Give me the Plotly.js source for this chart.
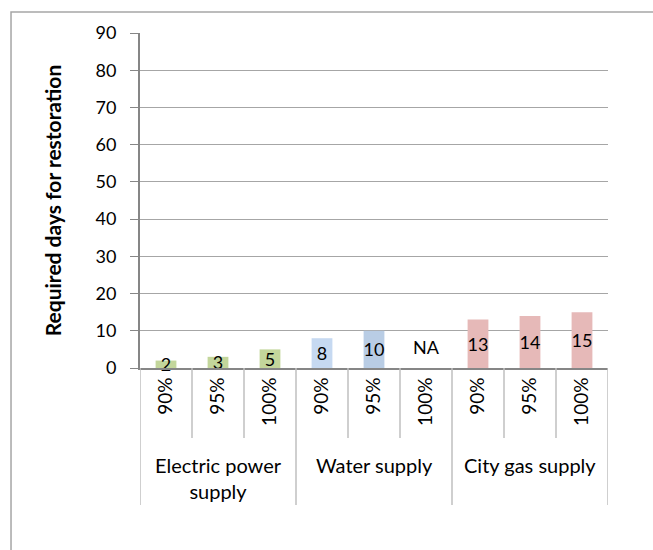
<!DOCTYPE html>
<html>
<head>
<meta charset="utf-8">
<script src="https://cdn.plot.ly/plotly-3.0.1.min.js"></script>
<style>html,body{margin:0;padding:0;background:#fff;}#chart{width:653px;height:550px;}</style>
</head>
<body>
<div id="chart"></div>
<script>
// Data
var groups = ['Electric power<br>supply', 'Water supply', 'City gas supply'];
var levels = ['90%', '95%', '100%'];
var electricValues = [2, 3, 5];
var waterValues = [8, 10, null];
var gasValues = [13, 14, 15];
var electricLabels = ['2', '3', '5'];
var waterLabels = ['8', '10', 'NA'];
var gasLabels = ['13', '14', '15'];
var yTicks = [0, 10, 20, 30, 40, 50, 60, 70, 80, 90];

var seriesValues = [electricValues, waterValues, gasValues];
var seriesLabels = [electricLabels, waterLabels, gasLabels];
var seriesColors = [
  ['#c3d69b', '#c3d69b', '#c3d69b'],
  ['#c6d9f1', '#b9cde5', '#b9cde5'],
  ['#e6b9b8', '#e6b9b8', '#e6b9b8']
];

var font = 'Lato, "Open Sans", sans-serif';
var traces = [];
var annotations = [];
var tickvals = [], ticktext = [];
var idx = 0;
groups.forEach(function (g, gi) {
  var xs = [], ys = [], txt = [];
  levels.forEach(function (l, li) {
    tickvals.push(idx);
    ticktext.push(l);
    xs.push(idx);
    var v = seriesValues[gi][li];
    ys.push(v);
    if (v === null) {
      annotations.push({x: idx, y: 0, xref: 'x', yref: 'y', text: seriesLabels[gi][li],
        showarrow: false, yanchor: 'bottom', yshift: 8, font: {family: font, size: 18, color: '#000'}});
      txt.push('');
    } else {
      txt.push(seriesLabels[gi][li]);
    }
    idx++;
  });
  traces.push({
    type: 'bar', x: xs, y: ys, text: txt,
    textposition: 'inside', insidetextanchor: 'middle', constraintext: 'none', textangle: 0,
    textfont: {family: font, size: 18, color: '#000'},
    marker: {color: seriesColors[gi], line: {width: 0}},
    width: 0.4, cliponaxis: false, hoverinfo: 'none', showlegend: false
  });
  annotations.push({x: gi * levels.length + (levels.length - 1) / 2, y: -0.248, xref: 'x', yref: 'paper',
    text: g, showarrow: false, yanchor: 'top', font: {family: font, size: 20, color: '#000'}});
});

var shapes = [];
var n = idx;
for (var k = 0; k <= n; k++) {
  var isGroup = (k % levels.length === 0);
  shapes.push({type: 'line', xref: 'x', yref: 'paper', x0: k - 0.5, x1: k - 0.5,
    y0: 0, y1: isGroup ? -0.409 : -0.209, line: {color: '#bfbfbf', width: 1.5}});
}
// outer chart border
shapes.push({type: 'rect', xref: 'paper', yref: 'paper', x0: -0.2756, x1: 1.5, y0: -1.0, y1: 1.0627,
  line: {color: '#a6a6a6', width: 1.5}, fillcolor: 'rgba(0,0,0,0)'});

var layout = {
  width: 653, height: 550,
  margin: {l: 140, r: 45, t: 33, b: 182},
  paper_bgcolor: '#fff', plot_bgcolor: '#fff',
  barmode: 'overlay',
  xaxis: {
    range: [-0.5, n - 0.5], tickmode: 'array', tickvals: tickvals, ticktext: ticktext,
    tickangle: -90, ticks: '', showgrid: false, zeroline: false,
    showline: true, linecolor: '#868686', linewidth: 2,
    tickfont: {family: font, size: 19, color: '#000'}, fixedrange: true
  },
  yaxis: {
    range: [0, 90], tickmode: 'array', tickvals: yTicks,
    ticks: 'outside', ticklen: 8, tickcolor: '#868686', tickwidth: 1,
    ticklabelstandoff: 10,
    showline: true, linecolor: '#868686', linewidth: 2,
    showgrid: true, gridcolor: '#a6a6a6', gridwidth: 1, zeroline: false,
    tickfont: {family: font, size: 18, color: '#000'},
    title: {text: '<b>Required days for restoration</b>', font: {family: font, size: 21, color: '#000'}, standoff: 28},
    fixedrange: true
  },
  annotations: annotations,
  shapes: shapes
};

Plotly.newPlot('chart', traces, layout, {displayModeBar: false, staticPlot: true});
</script>
</body>
</html>
